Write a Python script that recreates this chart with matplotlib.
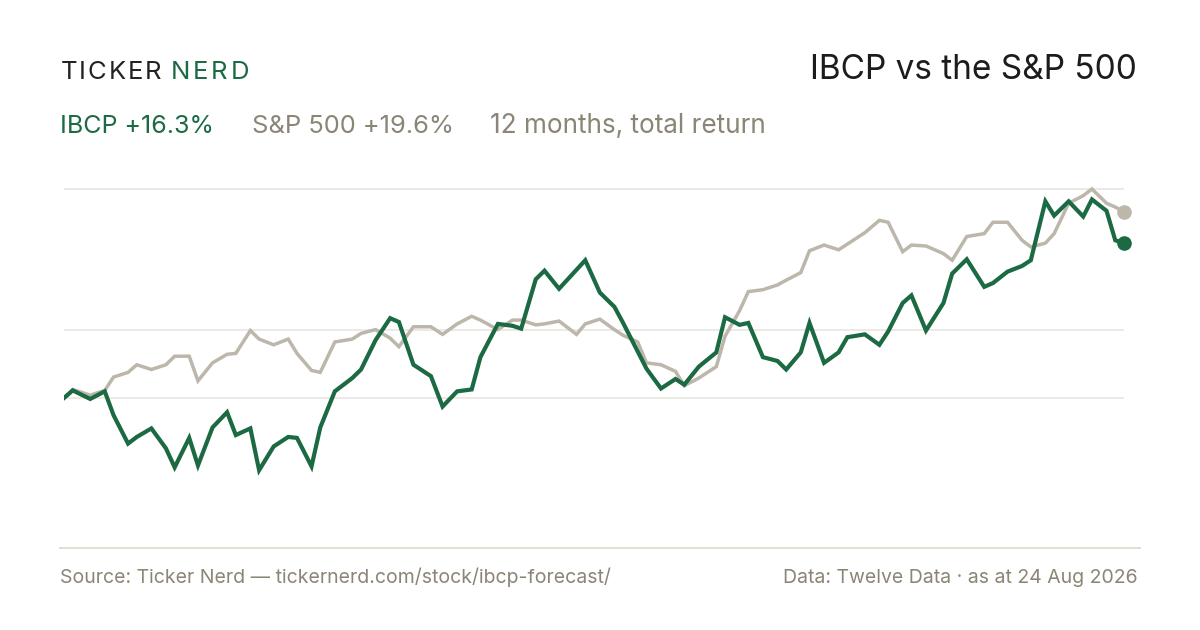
import matplotlib
matplotlib.use("Agg")
import matplotlib.pyplot as plt
from matplotlib.lines import Line2D
import pandas as pd

plt.rcParams['font.family'] = ['Inter', 'DejaVu Sans']

GREEN = '#1b6a43'
GREY_LINE = '#bdb7ab'
GREY_TEXT = '#8b8575'
GRID = '#ebe8e2'

# every third NYSE trading day, 25 Aug 2025 -> 24 Aug 2026
holidays = ['2025-09-01', '2025-11-27', '2025-12-25', '2026-01-01', '2026-01-19',
            '2026-02-16', '2026-04-03', '2026-05-25', '2026-06-19', '2026-07-03']
days = pd.bdate_range('2025-08-25', '2026-08-24', freq='C', holidays=holidays)
dates = list(days[::3])
if dates[-1] != days[-1]:
    dates.append(days[-1])

# cumulative total return, %
ibcp = [0.0, 0.8, -0.1, 0.7, -1.8, -4.8, -4.1, -3.2, -5.3, -7.3,
        -4.2, -7.1, -3.1, -1.5, -3.9, -3.2, -7.6, -5.1, -4.1, -4.2,
        -7.2, -3.1, 0.7, 2.1, 3.0, 6.1, 8.4, 8.0, 3.5, 2.3,
        -0.9, 0.7, 0.9, 4.3, 7.8, 7.6, 7.3, 12.5, 13.4, 11.5,
        13.5, 14.5, 11.1, 9.6, 7.9, 4.9, 3.1, 1.0, 2.0, 1.4,
        3.3, 4.8, 8.5, 7.7, 7.9, 4.3, 3.9, 3.0, 4.8, 7.9,
        3.7, 4.8, 6.4, 6.7, 5.6, 7.0, 10.0, 10.8, 7.1, 10.0,
        13.1, 14.6, 11.7, 12.1, 13.3, 13.9, 14.5, 20.7, 19.2, 20.7,
        19.1, 20.9, 19.7, 16.6, 16.3]
spx = [0.0, 0.9, 0.3, 0.8, 2.2, 2.7, 3.5, 3.0, 3.5, 4.4,
       4.4, 1.8, 3.7, 4.6, 4.7, 7.1, 6.2, 5.6, 6.2, 4.7,
       2.9, 2.7, 5.9, 6.2, 6.8, 7.2, 6.3, 5.4, 7.5, 7.5,
       6.7, 7.8, 8.6, 8.2, 7.2, 8.2, 8.2, 7.7, 7.8, 8.1,
       6.7, 7.8, 8.3, 7.2, 6.6, 5.9, 3.7, 3.5, 2.8, 1.3,
       2.1, 3.3, 6.5, 9.2, 11.2, 11.4, 11.9, 12.4, 13.2, 15.5,
       16.1, 15.6, 16.2, 17.4, 18.7, 18.5, 15.4, 16.1, 16.0, 15.2,
       14.5, 17.0, 17.3, 18.5, 18.5, 16.6, 15.9, 16.3, 17.3, 20.5,
       21.3, 22.0, 20.5, 20.1, 19.6]

W, H = 1200, 630
fig = plt.figure(figsize=(W / 100, H / 100), dpi=100)
fig.patch.set_facecolor('white')


def fx(px):
    return px / W


def fy(py):
    return 1 - py / H


px_per_pct = 9.5
ax = fig.add_axes([fx(64), fy(548), fx(1124) - fx(64), (548 - 170) / H])
ax.set_xlim(dates[0], dates[-1])
ax.set_ylim(-(548 - 398) / px_per_pct, (398 - 170) / px_per_pct)
ax.axis('off')

# gridlines: high, midpoint of range, start level
hi = max(max(ibcp), max(spx))
lo = min(min(ibcp), min(spx))
for v in (hi, (hi + lo) / 2, 0):
    ax.axhline(v, color=GRID, lw=1.3, zorder=1)

ax.plot(dates, spx, color=GREY_LINE, lw=2.5, solid_joinstyle='miter', zorder=2)
ax.plot(dates, ibcp, color=GREEN, lw=3.0, solid_joinstyle='miter', zorder=3)
ax.plot(dates[-1], spx[-1], 'o', color=GREY_LINE, ms=9.5, clip_on=False, zorder=4)
ax.plot(dates[-1], ibcp[-1], 'o', color=GREEN, ms=9.5, clip_on=False, zorder=5)

fig.add_artist(Line2D([fx(60), fx(1140)], [fy(548), fy(548)], color='#dfdbd2', lw=1.3))

# logo with letter spacing
renderer = fig.canvas.get_renderer()


def spaced(x0, x1, y, s, color, size):
    ws = []
    for ch in s:
        t = fig.text(0, 0, ch, fontsize=size)
        ws.append(t.get_window_extent(renderer).width)
        t.remove()
    gap = (x1 - x0 - sum(ws)) / (len(s) - 1)
    x = x0
    for ch, w in zip(s, ws):
        fig.text(fx(x), fy(y), ch, fontsize=size, color=color, va='baseline', ha='left')
        x += w + gap


spaced(60.5, 161.5, 79.3, 'TICKER', '#222222', 18.5)
spaced(170.5, 249, 79.3, 'NERD', GREEN, 18.5)

fig.text(fx(1137), fy(79.3), 'IBCP vs the S&P 500', fontsize=24, color='#1c1c1c',
         ha='right', va='baseline')

fig.text(fx(60), fy(132.7), 'IBCP +16.3%', fontsize=18, color=GREEN, va='baseline')
fig.text(fx(252), fy(132.7), 'S&P 500 +19.6%', fontsize=18.4, color=GREY_TEXT, va='baseline')
fig.text(fx(490), fy(132.7), '12 months, total return', fontsize=18.8, color=GREY_TEXT, va='baseline')

fig.text(fx(60), fy(583), 'Source: Ticker Nerd \u2014 tickernerd.com/stock/ibcp-forecast/',
         fontsize=14, color=GREY_TEXT, va='baseline')
fig.text(fx(1138), fy(583), 'Data: Twelve Data \u00b7 as at 24 Aug 2026',
         fontsize=14, color=GREY_TEXT, va='baseline', ha='right')

fig.savefig('out.png', dpi=100)
